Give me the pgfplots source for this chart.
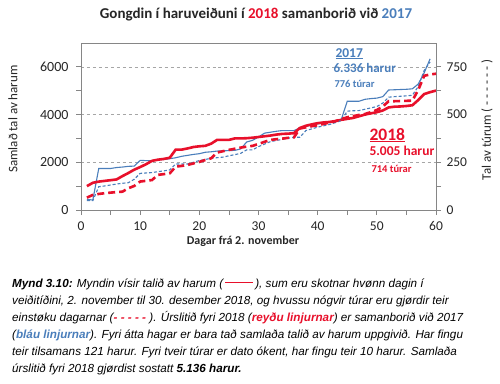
\documentclass[border=0pt]{standalone}
\usepackage{pgfplots}
\pgfplotsset{compat=1.18}
\usepackage{fontspec}
\setmainfont{Carlito}
\newfontfamily\arial{Liberation Sans}
\definecolor{myred}{HTML}{E8102B}
\definecolor{myblue}{HTML}{4A7EBB}
\definecolor{axgray}{HTML}{868686}
\definecolor{gridgray}{HTML}{A6A6A6}
\definecolor{txt}{HTML}{262626}

\pgfplotstableread{
day val
1 1000
2 1140
3 1190
4 1220
5 1250
6 1280
7 1420
8 1550
9 1690
10 1800
11 1920
12 2060
13 2110
14 2140
15 2190
16 2530
17 2530
18 2580
19 2640
20 2670
21 2690
22 2780
23 2940
24 2940
25 2940
26 3000
27 3000
28 3010
29 3030
30 3060
31 3090
32 3120
33 3160
34 3190
35 3200
36 3220
37 3440
38 3530
39 3590
40 3640
41 3670
42 3690
43 3730
44 3780
45 3820
46 3860
47 3930
48 4000
49 4050
50 4100
51 4170
52 4300
53 4330
54 4340
55 4360
56 4390
57 4610
58 4860
59 4940
60 5005
}\harurA

\pgfplotstableread{
day val
1 440
2 420
3 1740
4 1740
5 1740
6 1780
7 1800
8 1830
9 1840
10 2080
11 2070
12 2060
13 2100
14 2120
15 2150
16 2190
17 2250
18 2290
19 2330
20 2360
21 2420
22 2440
23 2470
24 2480
25 2490
26 2500
27 2560
28 2850
29 2920
30 3060
31 3220
32 3260
33 3300
34 3330
35 3330
36 3330
37 3440
38 3500
39 3560
40 3610
41 3650
42 3690
43 3740
44 3800
45 4560
46 4560
47 4560
48 4640
49 4670
50 4690
51 4750
52 5030
53 5040
54 5050
55 5060
56 5080
57 5280
58 5750
59 6336
}\harurB

\pgfplotstableread{
day val
1 65
2 79
3 84
4 88
5 91
6 94
7 96
8 114
9 126
10 149
11 153
12 157
13 184
14 188
15 192
16 227
17 231
18 236
19 244
20 252
21 262
22 271
23 301
24 308
25 315
26 321
27 327
28 332
29 336
30 346
31 357
32 367
33 371
34 374
35 378
36 381
37 427
38 433
39 439
40 444
41 451
42 458
43 465
44 476
45 486
46 492
47 498
48 503
49 513
50 524
51 542
52 570
53 570
54 571
55 572
56 573
57 629
58 703
59 710
60 714
}\turarA

\pgfplotstableread{
day val
1 49
2 49
3 122
4 126
5 131
6 136
7 140
8 143
9 161
10 192
11 194
12 196
13 201
14 205
15 210
16 241
17 241
18 241
19 250
20 259
21 265
22 271
23 274
24 277
25 284
26 290
27 297
28 315
29 315
30 332
31 345
32 358
33 364
34 370
35 376
36 381
37 381
38 416
39 425
40 434
41 441
42 448
43 458
44 469
45 518
46 520
47 521
48 528
49 535
50 542
51 560
52 591
53 594
54 596
55 598
56 601
57 647
58 731
59 776
}\turarB

\begin{document}
\begin{tikzpicture}[x=1bp,y=1bp]
\useasboundingbox (0,0) rectangle (500,383);
\fill[white] (0,0) rectangle (500,383);
% left axis
\begin{axis}[
  at={(81bp,173bp)}, anchor=south west,
  scale only axis, width=355bp, height=167bp,
  xmin=0, xmax=60, ymin=0, ymax=7000,
  xtick={0,10,...,60}, minor x tick num=1,
  ytick={0,2000,4000,6000}, minor y tick num=1,
  tick align=outside, xtick pos=bottom, ytick pos=left,
  major tick length=5bp, minor tick length=5bp,
  axis line style={axgray, line width=0.8bp},
  every tick/.style={axgray, line width=0.8bp},
  ymajorgrids, major grid style={gridgray, dashed, line width=0.6bp},
  /pgf/number format/assume math mode=true,
  /pgf/number format/1000 sep={},
  tick label style={font=\fontsize{14bp}{16bp}\selectfont, text=txt},
  yticklabel style={xshift=-4bp},
  xticklabel style={yshift=-3bp, font=\fontsize{13.5bp}{16bp}\selectfont},
  clip=false,
]
\addplot[myblue, line width=1.1bp] table[x=day,y=val] {\harurB};
\addplot[myred, line width=2.6bp] table[x=day,y=val] {\harurA};
\end{axis}
% right axis
\begin{axis}[
  at={(81bp,173bp)}, anchor=south west,
  scale only axis, width=355bp, height=167bp,
  xmin=0, xmax=60, ymin=0, ymax=875,
  hide x axis, axis y line*=right,
  ytick={0,250,500,750}, minor y tick num=1,
  tick align=outside,
  major tick length=5bp, minor tick length=5bp,
  axis line style={axgray, line width=0.8bp},
  every tick/.style={axgray, line width=0.8bp},
  /pgf/number format/assume math mode=true,
  tick label style={font=\fontsize{13.5bp}{16bp}\selectfont, text=txt},
  yticklabel style={xshift=2bp},
  clip=false,
]
\addplot[myblue, line width=1.1bp, dash pattern=on 3bp off 2bp] table[x=day,y=val] {\turarB};
\addplot[myred, line width=2.6bp, dash pattern=on 7bp off 4bp] table[x=day,y=val] {\turarA};
\end{axis}

% title
\node[anchor=base, font=\fontsize{15bp}{17bp}\selectfont\bfseries, text=txt] at (256,365)
  {Gongdin í haruveiðuni í \textcolor{myred}{2018} samanborið við \textcolor{myblue}{2017}};
% axis labels
\node[rotate=90, font=\fontsize{13bp}{15bp}\selectfont, text=txt] at (13,264) {Samlað tal av harum};
\node[rotate=90, font=\fontsize{13bp}{15bp}\selectfont, text=txt] at (487,263) {Tal av túrum ( - - - - - - )};
\node[font=\fontsize{12bp}{14bp}\selectfont\bfseries, text=txt] at (243,142) {Dagar frá 2. november};

% annotations 2017
\node[anchor=base west, font=\fontsize{13.5bp}{15bp}\selectfont\bfseries, text=myblue] at (332,326) {\underline{2017}};
\node[anchor=base west, font=\fontsize{13bp}{15bp}\selectfont\bfseries, text=myblue] at (330,311) {6.336 harur};
\node[anchor=base west, font=\fontsize{10.5bp}{12bp}\selectfont\bfseries, text=myblue] at (331,296) {776 túrar};
% annotations 2018
\node[anchor=base west, font=\fontsize{17.5bp}{19bp}\selectfont\bfseries, text=myred] at (366,243) {\underline{2018}};
\node[anchor=base west, font=\fontsize{13.5bp}{15bp}\selectfont\bfseries, text=myred] at (366,228) {5.005 harur};
\node[anchor=base west, font=\fontsize{10.5bp}{12bp}\selectfont\bfseries, text=myred] at (368,211) {714 túrar};

% caption
\begin{scope}[every node/.style={anchor=base west, inner sep=0pt, font=\arial\fontsize{11.7bp}{13bp}\selectfont\itshape, text=black}]
\node at (12,96) {\textbf{Mynd 3.10:} Myndin vísir talið av harum (\,\textcolor{myred}{\rule[0.3em]{2.4em}{1.6pt}}\,), sum eru skotnar hvønn dagin í};
\node at (12,79) {veiðitíðini, 2. november til 30. desember 2018, og hvussu nógvir túrar eru gjørdir teir};
\node at (12,62) {einstøku dagarnar (\textcolor{myred}{\textbf{- - - - -}} ). Úrslitið fyri 2018 (\textcolor{myred}{\textbf{reyðu linjurnar}}) er samanborið við 2017};
\node at (12,45) {(\textcolor{myblue}{\textbf{bláu linjurnar}}). Fyri átta hagar er bara tað samlaða talið av harum uppgivið. Har fingu};
\node at (12,28) {teir tilsamans 121 harur. Fyri tveir túrar er dato ókent, har fingu teir 10 harur. Samlaða};
\node at (12,11) {úrslitið fyri 2018 gjørdist sostatt \textbf{5.136 harur.}};
\end{scope}
\end{tikzpicture}
\end{document}
